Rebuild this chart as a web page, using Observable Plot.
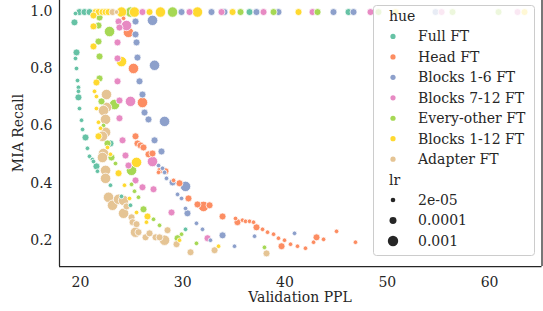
<!DOCTYPE html>
<html><head><meta charset="utf-8">
<script src="https://cdn.jsdelivr.net/npm/d3@7"></script>
<script src="https://cdn.jsdelivr.net/npm/@observablehq/plot@0.6"></script>
<style>body{margin:0;background:#fff}#chart{width:543px;height:311px}
#chart svg, #chart svg text{font-family:"DejaVu Serif", serif !important;}</style>
</head><body><div id="chart"></div>
<script>
const S = 2e-5, M = 1e-4, L = 1e-3;
const hueOrder = ["Full FT","Head FT","Blocks 1-6 FT","Blocks 7-12 FT","Every-other FT","Blocks 1-12 FT","Adapter FT"];
const hueColors = ["#66c2a5","#fc8d62","#8da0cb","#e78ac3","#a6d854","#ffd92f","#e5c494"];
const lrValues = [S, M, L];
const lrLabels = ["2e-05","0.0001","0.001"];
const xTicks = [20,30,40,50,60];
const yTicks = [0.2,0.4,0.6,0.8,1.0];

const fullFT = [[19.51,0.993,S],[19.90,0.998,M],[20.39,0.998,M],[20.88,0.998,M],[36.53,0.998,M],[46.21,0.998,M],
 [19.41,0.962,M],[19.61,0.857,M],[19.51,0.836,S],[19.61,0.801,S],[19.71,0.759,S],[19.80,0.735,S],[19.80,0.721,S],[19.80,0.700,M],
 [19.90,0.661,S],[20.10,0.620,S],[20.20,0.588,S],[20.49,0.560,M],[20.68,0.522,S],[20.88,0.494,S],[21.17,0.483,S],[21.27,0.476,S],
 [21.56,0.459,M],[21.66,0.442,S],[22.93,0.539,M],[22.93,0.393,S],[24.01,0.354,S],[24.89,0.323,S],[30.27,0.239,S]];
const headFT = [[24.21,0.976,S],[24.69,0.927,L],[25.18,0.801,L],[26.06,0.682,L],[25.38,0.564,M],[25.57,0.539,M],[25.87,0.532,M],
 [26.16,0.525,M],[26.65,0.501,M],[27.04,0.504,M],[27.82,0.445,M],[28.31,0.442,M],[27.63,0.438,S],[29.10,0.410,S],[29.68,0.400,M],
 [30.56,0.347,M],[31.44,0.326,M],[32.03,0.319,L],[32.62,0.323,M],[33.89,0.284,M],[35.16,0.277,S],[35.35,0.264,M],[35.84,0.271,S],
 [36.14,0.267,S],[36.53,0.267,S],[36.92,0.264,S],[37.21,0.246,M],[37.80,0.239,S],[38.29,0.229,S],[38.88,0.222,S],[39.36,0.208,S],
 [39.95,0.201,S],[39.66,0.180,M],[40.54,0.187,S],[41.22,0.180,S],[42.00,0.173,S],[42.79,0.194,S],[43.08,0.211,M],[43.77,0.204,S],
 [45.04,0.232,S],[46.89,0.194,S]];
const blocks16FT = [[29.88,0.998,M],[32.81,0.998,M],[34.08,0.998,M],[37.21,0.998,M],[39.36,0.998,M],[44.74,0.998,M],[46.70,0.998,M],[54.72,0.998,M],
 [25.38,0.965,M],[27.04,0.969,L],[25.38,0.920,M],[25.48,0.892,M],[25.57,0.839,M],[27.24,0.812,L],[25.77,0.756,M],[26.06,0.710,M],
 [26.26,0.647,M],[26.65,0.623,M],[28.22,0.616,L],[27.24,0.550,M],[27.92,0.511,M],[27.63,0.462,S],[28.02,0.452,S],[28.22,0.438,S],
 [28.41,0.417,S],[29.00,0.403,M],[30.27,0.389,L],[29.49,0.361,S],[29.88,0.347,S],[30.27,0.312,S],[30.46,0.295,M],[31.34,0.260,S],
 [31.93,0.239,S],[32.71,0.201,S],[33.89,0.218,M],[35.06,0.180,S],[37.02,0.215,S],[40.93,0.225,S]];
const blocks712FT = [[26.06,0.998,M],[30.66,0.998,M],[33.79,0.998,M],[37.90,0.998,M],[42.69,0.998,M],[48.36,0.998,M],[55.31,0.998,M],[62.74,0.998,M],
 [23.72,0.965,M],[24.50,0.951,L],[23.81,0.944,M],[23.62,0.892,M],[23.62,0.836,M],[23.62,0.756,M],[23.81,0.689,M],[24.89,0.686,L],
 [23.81,0.627,M],[24.11,0.550,M],[24.40,0.497,M],[24.69,0.462,M],[27.04,0.476,L],[25.38,0.410,M],[26.06,0.386,M],[27.14,0.379,M],
 [28.90,0.298,M],[32.42,0.208,M]];
const everyOtherFT = [[24.89,0.998,L],[29.00,0.998,L],[35.65,0.998,M],[38.88,0.998,M],[43.18,0.998,M],[49.14,0.998,M],[56.38,0.998,M],[60.88,0.998,M],
 [21.86,0.979,M],[21.76,0.951,M],[22.84,0.930,L],[21.76,0.895,M],[21.86,0.843,M],[21.86,0.766,M],[22.05,0.686,M],[23.33,0.675,L],
 [22.25,0.602,S],[22.64,0.539,M],[23.03,0.490,M],[23.42,0.469,S],[24.99,0.445,L],[24.99,0.396,S],[25.28,0.372,S],[25.67,0.351,S],
 [26.16,0.309,M],[27.14,0.274,S],[27.73,0.253,S],[29.88,0.222,S],[29.49,0.208,M],[31.34,0.190,S],[37.99,0.176,S]];
const blocks112FT = [[21.47,0.998,M],[21.76,0.998,M],[22.15,0.998,M],[22.45,0.998,M],[22.74,0.998,M],[24.01,0.998,L],[25.28,0.998,L],
 [26.75,0.998,M],[27.82,0.998,L],[31.44,0.998,L],[34.87,0.998,M],[41.32,0.998,M],[50.81,0.998,M],[63.42,0.998,M],
 [21.27,0.986,M],[21.27,0.948,M],[21.27,0.878,M],[24.01,0.825,L],[21.56,0.752,M],[21.37,0.721,S],[21.56,0.703,S],[21.56,0.661,S],
 [21.76,0.613,S],[21.96,0.592,S],[21.76,0.564,M],[22.64,0.525,S],[22.93,0.501,S],[23.72,0.435,M],[25.48,0.473,L],[24.30,0.393,S],
 [24.79,0.347,S],[25.48,0.298,S],[26.55,0.284,M],[26.45,0.264,S],[29.68,0.201,S],[33.50,0.180,S]];
const adapterFT = [[23.13,0.998,M],[23.52,0.998,S],
 [22.54,0.710,L],[22.54,0.665,L],[22.25,0.654,L],[22.45,0.623,L],[22.45,0.578,L],[22.15,0.564,L],[22.25,0.504,L],[22.15,0.490,L],
 [22.45,0.445,L],[22.45,0.417,L],[22.74,0.351,L],[23.13,0.323,L],[23.72,0.344,L],[24.21,0.340,L],[24.50,0.319,M],[24.21,0.295,L],
 [24.99,0.281,M],[25.09,0.264,M],[25.48,0.257,M],[25.38,0.229,L],[25.67,0.229,M],[26.36,0.211,M],[26.75,0.225,M],[27.34,0.211,M],
 [27.73,0.211,M],[28.22,0.201,L],[28.51,0.236,M],[29.39,0.187,M],[30.76,0.159,M],[33.11,0.166,M],[38.19,0.155,M]];

const seriesList = [fullFT, headFT, blocks16FT, blocks712FT, everyOtherFT, blocks112FT, adapterFT];
const data = seriesList.flatMap((pts, i) => pts.map(([x, y, lr]) => ({x, y, lr, hue: hueOrder[i]})));

const xDom = [17.946, 65.13], yDom = [0.1092, 1.0384];
const ink = "#262626";
const font = "DejaVu Serif";
const plot = Plot.plot({
  width: 543, height: 311,
  marginLeft: 59, marginRight: 1.5, marginTop: 0, marginBottom: 45,
  style: {fontFamily: font, fontSize: "14px", color: ink, background: "#fff"},
  x: {domain: xDom},
  y: {domain: yDom},
  color: {domain: hueOrder, range: hueColors},
  r: {type: "log", domain: [S, L], range: [2.3, 5.2]},
  marks: [
    Plot.axisX(xTicks, {tickSize: 0, tickPadding: 11, fontSize: 14, label: null}),
    Plot.axisY(yTicks, {tickSize: 0, tickPadding: 7, fontSize: 14, label: null, tickFormat: d3.format(".1f")}),
    Plot.dot(data, {x: "x", y: "y", r: "lr", fill: "hue", stroke: "white", strokeWidth: 0.75}),
    Plot.ruleX([xDom[0], xDom[1]], {stroke: ink, strokeWidth: 1.25}),
    Plot.ruleY([yDom[0]], {stroke: ink, strokeWidth: 1.25})
  ]
});
document.getElementById("chart").appendChild(plot);

const svg = d3.select(plot);
svg.append("text").attr("x", 300).attr("y", 297).attr("dy", "0.35em").attr("text-anchor", "middle")
  .attr("font-family", font).attr("fill", ink).attr("font-size", 14).text("Validation PPL");
svg.append("text").attr("transform", "translate(18,133) rotate(-90)").attr("dy", "0.35em").attr("text-anchor", "middle")
  .attr("font-family", font).attr("fill", ink).attr("font-size", 14).text("MIA Recall");

const colorScale = plot.scale("color");
const rScale = plot.scale("r");
const lg = svg.append("g").attr("font-size", 14).attr("font-family", font).attr("fill", ink).attr("text-anchor", "start");
lg.append("rect").attr("x", 373.5).attr("y", 5.5).attr("width", 161).attr("height", 250).attr("rx", 3)
  .attr("fill", "white").attr("fill-opacity", 0.8).attr("stroke", "#cccccc");
const rowY = i => 16 + i * 20.45;
lg.append("text").attr("x", 389).attr("y", rowY(0)).attr("dy", "0.35em").attr("text-anchor", "start").text("hue");
hueOrder.forEach((h, i) => {
  lg.append("circle").attr("cx", 393).attr("cy", rowY(i + 1)).attr("r", 2.6).attr("fill", colorScale.apply(h));
  lg.append("text").attr("x", 418).attr("y", rowY(i + 1)).attr("dy", "0.35em").attr("text-anchor", "start").text(h);
});
lg.append("text").attr("x", 389).attr("y", rowY(8)).attr("dy", "0.35em").attr("text-anchor", "start").text("lr");
lrValues.forEach((v, i) => {
  lg.append("circle").attr("cx", 393).attr("cy", rowY(9 + i)).attr("r", rScale.apply(v)).attr("fill", ink);
  lg.append("text").attr("x", 418).attr("y", rowY(9 + i)).attr("dy", "0.35em").attr("text-anchor", "start").text(lrLabels[i]);
});
</script></body></html>
